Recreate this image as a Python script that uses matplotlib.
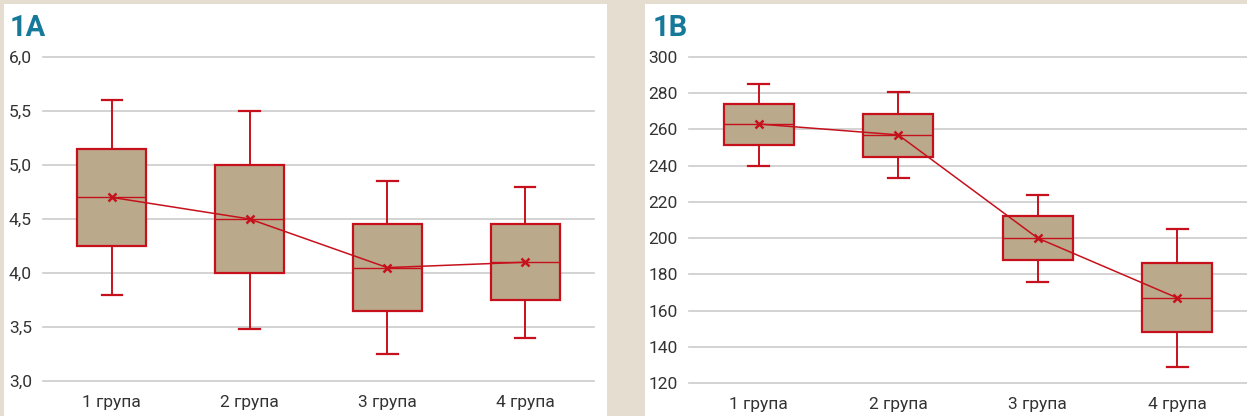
import matplotlib.pyplot as plt
from matplotlib.patches import Rectangle
from matplotlib import font_manager

groups = ['1 група', '2 група', '3 група', '4 група']

# panel 1A
a_whislo = [3.80, 3.48, 3.25, 3.40]
a_q1 = [4.25, 4.00, 3.65, 3.75]
a_med = [4.70, 4.50, 4.05, 4.10]
a_q3 = [5.15, 5.00, 4.45, 4.45]
a_whishi = [5.60, 5.50, 4.85, 4.80]
a_mean = [4.70, 4.50, 4.05, 4.10]
a_ticks = [3.0, 3.5, 4.0, 4.5, 5.0, 5.5, 6.0]

# panel 1B
b_whislo = [240, 233, 176, 129]
b_q1 = [251.5, 245, 188, 148]
b_med = [263, 257, 200, 167]
b_q3 = [274, 268.5, 212, 186]
b_whishi = [285, 280.5, 224, 205]
b_mean = [263, 257, 200, 167]
b_ticks = [120, 140, 160, 180, 200, 220, 240, 260, 280, 300]

RED = '#c6111c'
FILL = '#baa98b'
TEAL = '#17799a'
BG = '#e6ddd1'

names = {f.name for f in font_manager.fontManager.ttflist}
FONT = 'Liberation Sans Narrow' if 'Liberation Sans Narrow' in names else 'Roboto'
plt.rcParams['font.family'] = [FONT, 'DejaVu Sans']

W, H = 1247, 416
fig = plt.figure(figsize=(W / 100, H / 100), dpi=100, facecolor=BG)

# white cards behind each panel
for x0, x1 in [(4, 607), (645, 1247)]:
    fig.patches.append(Rectangle((x0 / W, 0), (x1 - x0) / W, (H - 4) / H,
                                 transform=fig.transFigure, facecolor='white',
                                 edgecolor='none', zorder=-10))


def panel(rect, whislo, q1, med, q3, whishi, mean, ticks, fmt, title, title_x):
    ax = fig.add_axes(rect)
    ax.set_facecolor('none')
    stats = []
    for i in range(len(groups)):
        stats.append(dict(whislo=whislo[i], q1=q1[i], med=med[i], q3=q3[i],
                          whishi=whishi[i], fliers=[]))
    pos = list(range(len(groups)))
    ax.bxp(stats, positions=pos, widths=0.5, capwidths=0.15, patch_artist=True,
           showfliers=False,
           boxprops=dict(facecolor=FILL, edgecolor=RED, linewidth=1.6),
           medianprops=dict(color=RED, linewidth=1.0),
           whiskerprops=dict(color=RED, linewidth=1.4),
           capprops=dict(color=RED, linewidth=1.6))
    ax.plot(pos, mean, color=RED, linewidth=1.1, marker='x', markersize=6,
            markeredgewidth=1.8, zorder=5)
    ax.set_xlim(-0.5, len(groups) - 0.5)
    ax.set_ylim(ticks[0], ticks[-1])
    ax.set_yticks(ticks)
    ax.set_yticklabels([fmt(t) for t in ticks])
    ax.set_xticks(pos)
    ax.set_xticklabels(groups)
    ax.grid(axis='y', color='#cccccc', linewidth=1.2)
    ax.set_axisbelow(True)
    for s in ax.spines.values():
        s.set_visible(False)
    ax.tick_params(length=0, labelsize=12.5, colors='#333333')
    ax.tick_params(axis='y', pad=8)
    ax.tick_params(axis='x', pad=10)
    for gl in ax.get_ygridlines():
        gl.set_clip_on(False)
    fig.text(title_x / W, 1 - 36 / H, title, color=TEAL, fontsize=21,
             fontweight='bold', ha='left', va='baseline')
    return ax


panel([43 / W, (H - 381) / H, 551 / W, 324 / H], a_whislo, a_q1, a_med, a_q3,
      a_whishi, a_mean, a_ticks, lambda t: f'{t:.1f}'.replace('.', ','), '1A', 10)
panel([689 / W, (H - 383) / H, 558 / W, 326 / H], b_whislo, b_q1, b_med, b_q3,
      b_whishi, b_mean, b_ticks, lambda t: f'{t:d}', '1B', 653)

fig.savefig('out.png', dpi=100, facecolor=BG)
